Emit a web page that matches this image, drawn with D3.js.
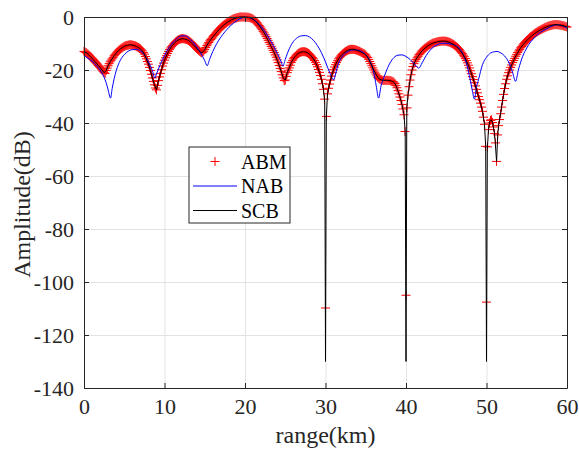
<!DOCTYPE html>
<html>
<head>
<meta charset="utf-8">
<script src="https://cdn.jsdelivr.net/npm/d3@7"></script>
<style>
  body { margin: 0; background: #fff; }
  text { font-family: "Liberation Serif", "Times New Roman", serif; fill: #262626; }
</style>
</head>
<body>
<div id="chart"></div>
<script>
var svgWidth = 579;
var svgHeight = 450;

var margin = { top: 17, right: 12, bottom: 62, left: 84 };
var width = svgWidth - margin.left - margin.right;
var height = svgHeight - margin.top - margin.bottom;

// SCB: range (km) and level (dB)
var rangeKm = [
  0, 0.25, 0.5, 0.75,  1, 1.25, 1.5, 1.75,  2, 2.25, 2.5, 2.75,  3, 3.25, 3.5, 3.75,
  4, 4.25, 4.5, 4.75,  5, 5.25, 5.5, 5.75,  6, 6.25, 6.5, 6.75,  7, 7.25, 7.5, 7.75,
  8, 8.25, 8.5, 8.75,  9, 9.25, 9.5, 9.75,  10, 10.25, 10.5, 10.75,  11, 11.25, 11.5, 11.75,
  12, 12.25, 12.5, 12.75,  13, 13.25, 13.5, 13.75,  14, 14.25, 14.5, 14.75,  15, 15.25, 15.5, 15.75,
  16, 16.25, 16.5, 16.75,  17, 17.25, 17.5, 17.75,  18, 18.25, 18.5, 18.75,  19, 19.25, 19.5, 19.75,
  20, 20.25, 20.5, 20.75,  21, 21.25, 21.5, 21.75,  22, 22.25, 22.5, 22.75,  23, 23.25, 23.5, 23.75,
  24, 24.25, 24.5, 24.75,  25, 25.25, 25.5, 25.75,  26, 26.25, 26.5, 26.75,  27, 27.25, 27.5, 27.75,
  28, 28.25, 28.5, 28.75,  29, 29.25, 29.5, 29.75, 29.9,  30, 30.1, 30.25, 30.5, 30.75,
  31, 31.25, 31.5, 31.75,  32, 32.25, 32.5, 32.75,  33, 33.25, 33.5, 33.75,  34, 34.25, 34.5, 34.75,
  35, 35.25, 35.5, 35.75,  36, 36.25, 36.5, 36.75,  37, 37.25, 37.5, 37.75,  38, 38.25, 38.5, 38.75,
  39, 39.25, 39.5, 39.75, 39.9,  40, 40.1, 40.25, 40.5, 40.75,
  41, 41.25, 41.5, 41.75,  42, 42.25, 42.5, 42.75,  43, 43.25, 43.5, 43.75,  44, 44.25, 44.5, 44.75,
  45, 45.25, 45.5, 45.75,  46, 46.25, 46.5, 46.75,  47, 47.25, 47.5, 47.75,  48, 48.25, 48.5, 48.75,
  49, 49.25, 49.5, 49.75, 49.9,  50, 50.1, 50.25, 50.4, 50.6, 50.75,
  51, 51.1, 51.25, 51.4, 51.5, 51.75,  52, 52.25, 52.5, 52.75,  53, 53.25, 53.5, 53.75,
  54, 54.25, 54.5, 54.75,  55, 55.25, 55.5, 55.75,  56, 56.25, 56.5, 56.75,  57, 57.25, 57.5, 57.75,
  58, 58.25, 58.5, 58.75,  59, 59.25, 59.5, 59.75,  60
];

var scbDb = [
  -13.0, -13.4, -14.0, -14.8,  -15.6, -16.5, -17.3, -18.2,  -19.0, -20.0, -21.0, -20.2,  -18.4, -16.9, -15.8, -14.6,
  -13.6, -12.8, -12.1, -11.6,  -11.1, -10.8, -10.6, -10.5,  -10.6, -10.8, -11.1, -11.5,  -12.0, -12.8, -14.0, -15.8,
  -17.8, -20.2, -23.0, -25.6,  -27.5, -24.0, -21.3, -18.5,  -16.3, -14.6, -13.0, -11.7,  -10.7, -9.8, -9.1, -8.6,
  -8.3, -8.2, -8.3, -8.5,  -8.9, -9.5, -10.2, -11.0,  -11.9, -12.7, -13.3, -13.3,  -12.3, -10.8, -9.6, -8.5,
  -7.5, -6.6, -5.7, -4.8,  -4.0, -3.3, -2.7, -2.1,  -1.6, -1.2, -0.8, -0.5,  -0.3, -0.1, 0, 0,
  0, -0.1, -0.2, -0.4,  -0.8, -1.4, -2.2, -3.2,  -4.2, -5.4, -6.7, -8.1,  -9.6, -11.1, -12.6, -14.3,
  -16.2, -18.3, -20.6, -23.0,  -23.8, -21.0, -19.2, -17.2,  -15.8, -14.8, -14.0, -13.5,  -13.2, -13.1, -13.2, -13.5,
  -14.0, -14.8, -15.8, -17.1,  -18.8, -20.9, -23.5, -27.3, -32.2,  -130, -38.1, -29.0, -25.3, -22.3,
  -19.9, -18.0, -16.5, -15.2,  -14.3, -13.6, -13.0, -12.6,  -12.3, -12.2, -12.2, -12.4,  -12.7, -13.0, -13.4, -13.8,
  -14.3, -15.3, -16.8, -18.4,  -20.0, -21.5, -22.8, -23.5,  -23.8, -23.9, -23.9, -23.9,  -24.0, -24.2, -24.6, -25.8,
  -27.8, -30.2, -33.0, -36.9, -43.2,  -130, -34.3, -29.5, -23.8, -20.0,
  -17.6, -16.0, -14.8, -13.7,  -12.8, -12.0, -11.4, -10.8,  -10.4, -10.0, -9.7, -9.5,  -9.3, -9.2, -9.1, -9.1,
  -9.2, -9.4, -9.7, -10.1,  -10.6, -11.2, -11.9, -12.8,  -13.8, -15.0, -16.4, -18.2,  -20.3, -22.5, -24.8, -27.3,
  -30.0, -32.5, -35.6, -40.5, -48.8,  -130, -50.0, -42.5, -39.5, -38.8, -39.8,
  -44.0, -48.0, -54.5, -44.5, -41.0, -36.5,  -31.5, -27.0, -23.5, -21.0,  -19.0, -17.2, -15.6, -14.1,
  -12.8, -11.6, -10.6, -9.7,  -8.9, -8.1, -7.4, -6.8,  -6.2, -5.7, -5.2, -4.8,  -4.4, -4.0, -3.7, -3.4,
  -3.2, -3.0, -2.9, -2.9,  -3.0, -3.1, -3.3, -3.5,  -3.8
];

// ABM: sampled every 0.125 km from 0 to 60 km (one row per km)
var abmStartKm = 0;
var abmStepKm = 0.125;
var abmDb = [
  -13.0, -13.2, -13.4, -13.7, -14.0, -14.4, -14.8, -15.2,
  -15.6, -16.0, -16.5, -16.9, -17.3, -17.7, -18.2, -18.6,
  -19.0, -19.5, -20.0, -20.5, -21.0, -21.3, -20.2, -19.3,
  -18.4, -17.6, -16.9, -16.3, -15.8, -15.2, -14.6, -14.1,
  -13.6, -13.2, -12.8, -12.4, -12.1, -11.8, -11.6, -11.3,
  -11.1, -10.9, -10.8, -10.7, -10.6, -10.5, -10.5, -10.5,
  -10.6, -10.7, -10.8, -10.9, -11.1, -11.3, -11.5, -11.7,
  -12.0, -12.4, -12.8, -13.4, -14.0, -14.9, -15.8, -16.8,
  -17.8, -19.0, -20.2, -21.6, -23.0, -24.3, -25.6, -26.8,
  -27.5, -25.8, -24.0, -22.6, -21.3, -19.9, -18.5, -17.4,
  -16.3, -15.4, -14.6, -13.8, -13.0, -12.3, -11.7, -11.2,
  -10.7, -10.2, -9.8, -9.4, -9.1, -8.8, -8.6, -8.4,
  -8.3, -8.2, -8.2, -8.2, -8.3, -8.4, -8.5, -8.7,
  -8.9, -9.2, -9.5, -9.8, -10.2, -10.6, -11.0, -11.4,
  -11.9, -12.3, -12.7, -13.0, -13.3, -13.5, -13.3, -12.9,
  -12.3, -11.5, -10.8, -10.2, -9.6, -9.0, -8.5, -8.0,
  -7.5, -7.0, -6.6, -6.1, -5.7, -5.2, -4.8, -4.4,
  -4.0, -3.6, -3.3, -3.0, -2.7, -2.4, -2.1, -1.8,
  -1.6, -1.4, -1.2, -1.0, -0.8, -0.6, -0.5, -0.4,
  -0.3, -0.2, -0.1, 0, 0, 0, 0, 0,
  0, 0, -0.1, -0.1, -0.2, -0.3, -0.4, -0.6,
  -0.8, -1.1, -1.4, -1.8, -2.2, -2.7, -3.2, -3.7,
  -4.2, -4.8, -5.4, -6.0, -6.7, -7.4, -8.1, -8.8,
  -9.6, -10.3, -11.1, -11.8, -12.6, -13.4, -14.3, -15.2,
  -16.2, -17.2, -18.3, -19.4, -20.6, -21.8, -23.0, -24.0,
  -23.8, -22.4, -21.0, -20.1, -19.2, -18.2, -17.2, -16.5,
  -15.8, -15.3, -14.8, -14.4, -14.0, -13.7, -13.5, -13.3,
  -13.2, -13.1, -13.1, -13.1, -13.2, -13.3, -13.5, -13.7,
  -14.0, -14.4, -14.8, -15.3, -15.8, -16.4, -17.1, -17.9,
  -18.8, -19.8, -20.9, -22.1, -23.5, -25.2, -27.3, -31.0,
  -109.8, -37.5, -29.0, -26.9, -25.3, -23.8, -22.3, -21.0,
  -19.9, -18.9, -18.0, -17.2, -16.5, -15.8, -15.2, -14.7,
  -14.3, -13.9, -13.6, -13.3, -13.0, -12.8, -12.6, -12.4,
  -12.3, -12.2, -12.2, -12.2, -12.2, -12.3, -12.4, -12.5,
  -12.7, -12.8, -13.0, -13.2, -13.4, -13.6, -13.8, -14.0,
  -14.3, -14.8, -15.3, -16.0, -16.8, -17.6, -18.4, -19.2,
  -20.0, -20.8, -21.5, -22.2, -22.8, -23.2, -23.5, -23.7,
  -23.8, -23.9, -23.9, -23.9, -23.9, -23.9, -23.9, -23.9,
  -24.0, -24.1, -24.2, -24.4, -24.6, -25.1, -25.8, -26.7,
  -27.8, -29.0, -30.2, -31.5, -33.0, -34.7, -36.9, -43.2,
  -105.0, -34.3, -29.5, -26.3, -23.8, -21.8, -20.0, -18.7,
  -17.6, -16.7, -16.0, -15.4, -14.8, -14.2, -13.7, -13.2,
  -12.8, -12.4, -12.0, -11.7, -11.4, -11.1, -10.8, -10.6,
  -10.4, -10.2, -10.0, -9.8, -9.7, -9.6, -9.5, -9.4,
  -9.3, -9.2, -9.2, -9.1, -9.1, -9.1, -9.1, -9.1,
  -9.2, -9.3, -9.4, -9.5, -9.7, -9.9, -10.1, -10.3,
  -10.6, -10.9, -11.2, -11.5, -11.9, -12.3, -12.8, -13.3,
  -13.8, -14.4, -15.0, -15.7, -16.4, -17.3, -18.2, -19.2,
  -20.3, -21.4, -22.5, -23.6, -24.8, -26.0, -27.3, -28.6,
  -30.0, -31.2, -32.5, -34.0, -35.6, -37.8, -40.5, -48.8,
  -107.6, -49.0, -42.5, -40.0, -39.0, -38.8, -39.8, -41.5,
  -44.0, -47.5, -54.5, -44.5, -41.0, -38.7, -36.5, -34.0,
  -31.5, -29.2, -27.0, -25.2, -23.5, -22.2, -21.0, -20.0,
  -19.0, -18.1, -17.2, -16.4, -15.6, -14.8, -14.1, -13.4,
  -12.8, -12.2, -11.6, -11.1, -10.6, -10.1, -9.7, -9.3,
  -8.9, -8.5, -8.1, -7.7, -7.4, -7.1, -6.8, -6.5,
  -6.2, -5.9, -5.7, -5.4, -5.2, -5.0, -4.8, -4.6,
  -4.4, -4.2, -4.0, -3.8, -3.7, -3.5, -3.4, -3.3,
  -3.2, -3.1, -3.0, -2.9, -2.9, -2.9, -2.9, -2.9,
  -3.0, -3.0, -3.1, -3.2, -3.3, -3.4, -3.5, -3.6,
  -3.8
];

// NAB has its own sample positions
var nabRangeKm = [
  0, 0.5, 1, 1.5, 2, 2.5, 2.75, 3, 3.3, 3.5, 3.75, 4, 4.5, 5, 5.5, 6, 6.5, 7, 7.5, 8, 8.5, 8.8, 9, 9.5,
  10, 10.5, 11, 11.5, 12, 12.5, 13, 13.5, 14, 14.5, 15, 15.3, 15.6, 16, 16.5, 17, 17.5, 18, 18.5, 19, 19.5,
  20, 20.5, 21, 21.5, 22, 22.5, 23, 23.5, 24, 24.5, 24.7, 25, 25.5, 26, 26.5, 27, 27.5, 28, 28.5, 29, 29.5,
  30, 30.5, 31, 31.25, 31.5, 32, 32.5, 33, 33.5, 34, 34.5, 35, 35.5, 36, 36.3, 36.6, 36.9, 37.25, 37.5, 38, 38.5, 39, 39.5,
  40, 40.5, 41, 41.6, 42, 42.5, 43, 43.5, 44, 44.5, 45, 45.5, 46, 46.5, 47, 47.5, 48, 48.25, 48.5, 48.75, 49, 49.5,
  50, 50.5, 51, 51.3, 51.75, 52.25, 52.75, 53.25, 53.6, 54, 54.25, 54.5, 55, 55.5, 56, 56.5, 57, 57.5, 58, 58.5, 58.75, 59, 59.5, 60
];
var nabDb = [
  -14.6, -15.6, -16.7, -18.2, -20.0, -22.8, -24.8, -27.5, -30.6, -27.0, -23.2, -20.3, -16.4, -14.2, -12.9, -12.3, -12.2, -12.8, -14.3, -16.8, -20.3, -23.0, -21.5, -17.8,
  -14.5, -11.8, -9.8, -8.3, -7.2, -7.1, -7.9, -9.4, -11.2, -13.6, -16.5, -18.4, -16.0, -13.0, -10.0, -7.6, -5.6, -3.9, -2.5, -1.3, -0.5,
  -0.1, -0.2, -0.9, -2.0, -3.6, -5.6, -8.0, -10.7, -13.7, -17.0, -18.6, -16.0, -12.0, -9.3, -7.8, -7.1, -7.0, -7.5, -8.8, -10.8, -13.5,
  -17.0, -20.8, -23.7, -21.5, -18.5, -15.3, -13.6, -12.7, -12.4, -12.5, -13.0, -14.2, -16.5, -21.0, -26.0, -30.6, -26.0, -22.8, -20.8, -17.4, -15.3, -14.4, -14.3,
  -14.9, -16.0, -17.6, -19.3, -17.3, -14.6, -12.5, -11.1, -10.3, -9.9, -9.9, -10.2, -10.6, -11.4, -13.5, -17.4, -24.0, -28.0, -31.0, -26.5, -23.7, -18.0,
  -15.2, -13.6, -13.1, -13.0, -13.5, -14.7, -17.0, -21.0, -24.3, -19.5, -17.0, -14.8, -11.7, -9.3, -7.7, -6.2, -5.2, -4.4, -3.6, -3.0, -2.9, -3.0, -3.4, -4.2
];

var xTicks = [0, 10, 20, 30, 40, 50, 60];
var yTicks = [0, -20, -40, -60, -80, -100, -120, -140];
var legendLabels = ["ABM", "NAB", "SCB"];

var scb = rangeKm.map(function(r, i) { return { r: r, db: scbDb[i] }; });
var abm = abmDb.map(function(v, i) { return { r: abmStartKm + i * abmStepKm, db: v }; });
var nab = nabRangeKm.map(function(r, i) { return { r: r, db: nabDb[i] }; });

var svg = d3.select("#chart")
    .append("svg")
        .attr("width", svgWidth)
        .attr("height", svgHeight);
var chartGroup = svg.append("g")
        .attr("transform", `translate(${margin.left}, ${margin.top})`);

var x = d3.scaleLinear().domain([0, 60]).range([0, width]);
var y = d3.scaleLinear().domain([-140, 0]).range([height, 0]);

// grid
chartGroup.append("g")
    .attr("class", "grid")
    .attr("transform", "translate(0," + height + ")")
    .call(d3.axisBottom(x).tickValues(xTicks).tickSize(-height).tickFormat(""))
    .call(g => g.select(".domain").remove());
chartGroup.append("g")
    .attr("class", "grid")
    .call(d3.axisLeft(y).tickValues(yTicks).tickSize(-width).tickFormat(""))
    .call(g => g.select(".domain").remove());
chartGroup.selectAll(".grid line").attr("stroke", "#e3e3e3").attr("stroke-width", 1);

// ABM markers
var plus = "M-4.5,0H4.5M0,-4.5V4.5";
chartGroup.append("g")
    .selectAll("path")
    .data(abm)
    .enter().append("path")
        .attr("transform", d => `translate(${x(d.r)},${y(d.db)})`)
        .attr("d", plus)
        .style("stroke", "#ff0000")
        .style("stroke-width", 1)
        .style("fill", "none");

var line = d3.line()
    .x(d => x(d.r))
    .y(d => y(d.db));

chartGroup.append("path")
    .attr("d", line.curve(d3.curveMonotoneX)(nab))
    .style("stroke", "#0000ff")
    .style("stroke-width", 1)
    .style("fill", "none");

chartGroup.append("path")
    .attr("d", line.curve(d3.curveLinear)(scb))
    .style("stroke", "#000000")
    .style("stroke-width", 1)
    .style("fill", "none");

// axes (ticks inside, box on)
function styleAxis(g) {
    g.attr("font-family", '"Liberation Serif", serif').attr("font-size", 22);
    g.selectAll("path.domain").attr("stroke", "#262626");
    g.selectAll(".tick line").attr("stroke", "#262626");
    g.selectAll("text").attr("fill", "#262626");
}
var fmt = d => String(d);

chartGroup.append("g")
    .attr("transform", "translate(0," + height + ")")
    .call(d3.axisBottom(x).tickValues(xTicks).tickFormat(fmt).tickSizeInner(-5).tickSizeOuter(0).tickPadding(10))
    .call(styleAxis);
chartGroup.append("g")
    .call(d3.axisTop(x).tickValues(xTicks).tickSizeInner(-5).tickSizeOuter(0).tickFormat(""))
    .call(styleAxis);
chartGroup.append("g")
    .call(d3.axisLeft(y).tickValues(yTicks).tickFormat(fmt).tickSizeInner(-5).tickSizeOuter(0).tickPadding(10))
    .call(styleAxis);
chartGroup.append("g")
    .attr("transform", "translate(" + width + ",0)")
    .call(d3.axisRight(y).tickValues(yTicks).tickSizeInner(-5).tickSizeOuter(0).tickFormat(""))
    .call(styleAxis);

// axis labels
chartGroup.append("text")
    .attr("transform", `translate(${width / 2}, ${height + 55})`)
    .attr("text-anchor", "middle")
    .style("font-size", "24px")
    .text("range(km)");

chartGroup.append("text")
    .attr("transform", "translate(" + (-margin.left + 30) + "," + (height / 2 + 2) + ") rotate(-90)")
    .attr("text-anchor", "middle")
    .style("font-size", "24px")
    .text("Amplitude(dB)");

// legend
var legend = chartGroup.append("g")
    .attr("transform", "translate(" + (189 - margin.left) + "," + (147 - margin.top) + ")");
legend.append("rect")
    .attr("width", 101)
    .attr("height", 76)
    .attr("fill", "#ffffff")
    .attr("stroke", "#262626")
    .attr("stroke-width", 1);

legendLabels.forEach(function(lab, i) {
    var cy = 14.5 + i * 24.5;
    if (i === 0) {
        legend.append("path")
            .attr("transform", `translate(26,${cy})`)
            .attr("d", plus)
            .style("stroke", "#ff0000")
            .style("stroke-width", 1)
            .style("fill", "none");
    } else {
        legend.append("line")
            .attr("x1", 4).attr("x2", 48)
            .attr("y1", cy).attr("y2", cy)
            .style("stroke", i === 1 ? "#0000ff" : "#000000")
            .style("stroke-width", 1);
    }
    legend.append("text")
        .attr("x", 52)
        .attr("y", cy + 7)
        .style("font-size", "20px")
        .style("fill", "#000000")
        .text(lab);
});
</script>
</body>
</html>
